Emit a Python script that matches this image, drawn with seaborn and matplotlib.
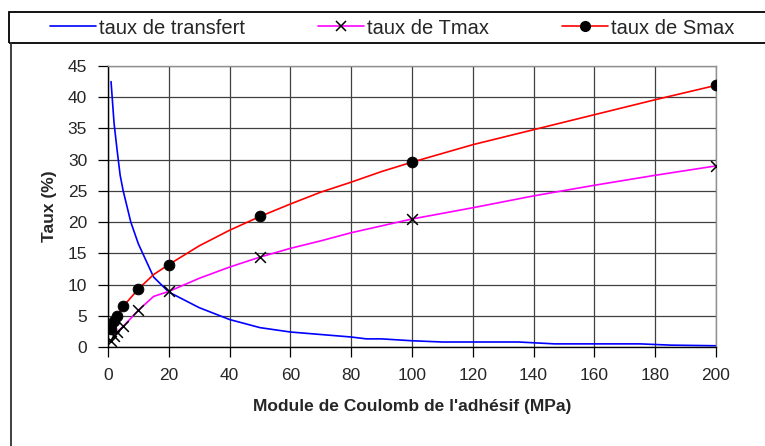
import pandas as pd
import seaborn as sns
import matplotlib.pyplot as plt
from matplotlib.lines import Line2D
from matplotlib.patches import Rectangle

# Data
# taux de transfert (blue line, no markers)
x_transfert = [1, 2, 3, 4, 5, 7.5, 10, 15, 20, 30, 40, 50, 60, 70, 80, 85, 90,
               100, 110, 135, 147, 175, 185, 200]
y_transfert = [42.5, 35.8, 31.5, 27.5, 25.0, 20.0, 16.5, 11.2, 8.8, 6.3, 4.4, 3.1,
               2.4, 2.0, 1.6, 1.3, 1.3, 1.0, 0.8, 0.8, 0.5, 0.5, 0.3, 0.2]

# taux de Tmax (magenta line)
x_tmax_line = [1, 2, 3, 5, 10, 15, 20, 30, 40, 50, 60, 70, 80, 90, 100, 120, 140,
               160, 180, 200]
y_tmax_line = [1.0, 1.7, 2.4, 3.3, 5.9, 8.1, 8.9, 11.0, 12.8, 14.4, 15.8, 17.0,
               18.3, 19.4, 20.5, 22.3, 24.2, 25.9, 27.5, 29.0]

# taux de Smax (red line)
x_smax_line = [1, 2, 3, 5, 10, 15, 20, 30, 40, 50, 60, 70, 80, 90, 100, 120, 140,
               160, 180, 200]
y_smax_line = [2.9, 4.2, 4.9, 6.5, 9.3, 11.6, 13.2, 16.2, 18.7, 20.9, 22.9, 24.8,
               26.4, 28.1, 29.6, 32.4, 34.8, 37.2, 39.6, 41.9]

# marker points
x_points = [1, 2, 3, 5, 10, 20, 50, 100, 200]
y_tmax_pts = [1.0, 1.7, 2.4, 3.3, 5.9, 8.9, 14.4, 20.5, 29.0]
y_smax_pts = [2.9, 4.2, 4.9, 6.5, 9.3, 13.2, 20.9, 29.6, 41.9]

df_tr = pd.DataFrame({'x': x_transfert, 'y': y_transfert})
df_tl = pd.DataFrame({'x': x_tmax_line, 'y': y_tmax_line})
df_sl = pd.DataFrame({'x': x_smax_line, 'y': y_smax_line})
df_tp = pd.DataFrame({'x': x_points, 'y': y_tmax_pts})
df_sp = pd.DataFrame({'x': x_points, 'y': y_smax_pts})

sns.set_style('white')
plt.rcParams['font.family'] = ['Liberation Sans', 'DejaVu Sans']

fig = plt.figure(figsize=(7.65, 4.46), dpi=100)
ax = fig.add_axes([108 / 765, 1 - 347 / 446, (716 - 108) / 765, (347 - 66) / 446])

sns.lineplot(data=df_tr, x='x', y='y', color='#0000ff', lw=1.2, ax=ax)
sns.lineplot(data=df_tl, x='x', y='y', color='#ff00ff', lw=1.2, ax=ax)
sns.lineplot(data=df_sl, x='x', y='y', color='#ff0000', lw=1.2, ax=ax)
sns.scatterplot(data=df_tp, x='x', y='y', marker='x', s=60, color='black',
                linewidth=1.1, ax=ax, zorder=5)
sns.scatterplot(data=df_sp, x='x', y='y', marker='o', s=60, color='black',
                edgecolor='black', ax=ax, zorder=5)

ax.set_xlim(0, 200)
ax.set_ylim(0, 45)
ax.set_xticks(range(0, 201, 20))
ax.set_yticks(range(0, 46, 5))
ax.grid(True, color='#404040', lw=0.9)
ax.set_axisbelow(True)
ax.tick_params(direction='out', length=7, width=0.9, color='black',
               labelsize=12.5, bottom=True, left=True)
ax.tick_params(axis='x', pad=8)
ax.tick_params(axis='y', pad=8)
for side in ['left', 'bottom']:
    ax.spines[side].set_color('black')
    ax.spines[side].set_linewidth(1.0)
for side in ['top', 'right']:
    ax.spines[side].set_color('#909090')
    ax.spines[side].set_linewidth(1.0)

ax.set_xlabel("Module de Coulomb de l'adhésif (MPa)", fontsize=12.5,
              fontweight='bold', labelpad=12)
ax.set_ylabel('Taux (%)', fontsize=12.5, fontweight='bold', labelpad=8)

# legend across the top, in its own box
handles = [Line2D([], [], color='#0000ff', lw=1.2),
           Line2D([], [], color='#ff00ff', lw=1.2, marker='x', mec='black',
                  ms=7, mew=1.1),
           Line2D([], [], color='#ff0000', lw=1.2, marker='o', mec='black',
                  mfc='black', ms=7)]
labels = ['taux de transfert', 'taux de Tmax', 'taux de Smax']
fig.legend(handles, labels, ncol=3, loc='center left',
           bbox_to_anchor=(50 / 765, 1 - 28 / 446), frameon=False,
           borderpad=0, borderaxespad=0,
           fontsize=14.5, handlelength=2.3, handletextpad=0.15,
           columnspacing=3.6)

fig.add_artist(Rectangle((9 / 765, 1 - 43 / 446), 1.0, 31 / 446,
                         transform=fig.transFigure, fill=False,
                         edgecolor='black', lw=1.3, clip_on=False))
fig.add_artist(Line2D([11 / 765, 11 / 765], [0, 1 - 43 / 446],
                      transform=fig.transFigure, color='#303030', lw=1.3))

fig.savefig('out.png', dpi=100)
